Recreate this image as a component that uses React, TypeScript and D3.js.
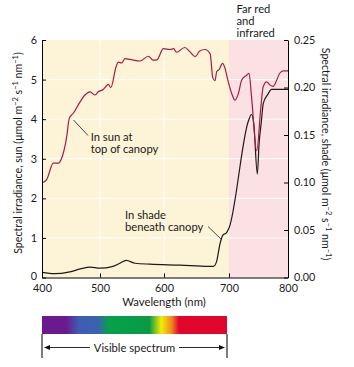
import React, { useEffect, useRef } from "react";
import * as d3 from "d3";

// sun at top of canopy (left axis)
const sunWavelength = [400, 403, 408, 419.5, 428, 433, 442.6, 447, 454, 462.6, 474, 483, 491, 497, 505, 513, 517, 525, 528.6, 534, 539, 547, 562.5, 575.5, 583, 589, 599, 609, 615, 619, 632, 640, 648, 655, 663, 671, 675, 678.5, 681, 685, 690, 694, 697, 704.6, 710, 716, 721.5, 730, 734, 738, 747, 754, 758, 764, 769.5, 775, 781, 786, 792, 800];
const sunValue = [2.41, 2.41, 2.47, 2.89, 2.89, 2.98, 3.56, 4.02, 4.15, 4.36, 4.61, 4.69, 4.61, 4.69, 4.75, 4.88, 4.8, 5.32, 5.44, 5.42, 5.53, 5.51, 5.47, 5.59, 5.49, 5.5, 5.78, 5.76, 5.78, 5.69, 5.81, 5.7, 5.58, 5.72, 5.76, 5.65, 5.05, 4.97, 5.2, 5.26, 5.41, 5.28, 5.07, 4.65, 4.48, 4.65, 4.99, 5.11, 5.16, 4.6, 3.2, 4.3, 4.82, 4.94, 4.86, 4.83, 4.99, 5.16, 5.22, 5.22];

// shade beneath canopy (right axis)
const shadeWavelength = [400, 422, 448, 466, 483, 500, 519, 531, 541, 555, 578, 625, 668, 676, 681, 686, 691, 696, 700, 733, 738, 742, 748, 751, 755, 758, 766, 772, 800];
const shadeValue = [0.0053, 0.004, 0.006, 0.009, 0.011, 0.0099, 0.0115, 0.015, 0.018, 0.015, 0.014, 0.013, 0.0117, 0.0117, 0.017, 0.035, 0.045, 0.047, 0.052, 0.165, 0.1716, 0.162, 0.109, 0.141, 0.165, 0.183, 0.193, 0.198, 0.198];

const xTicks = [400, 500, 600, 700, 800];
const sunTicks = [0, 1, 2, 3, 4, 5, 6];
const shadeTicks = [0, 0.05, 0.1, 0.15, 0.2, 0.25];
const visibleRange = [400, 700];
const farRedRange = [700, 800];

// visible spectrum bar colours
const spectrumOffsets = [0, 0.13, 0.2, 0.3, 0.36, 0.58, 0.645, 0.7, 0.74, 1];
const spectrumColors = ["#6b1a8d", "#6b1a8d", "#3f5cb3", "#3a62b0", "#07a04a", "#0a9a47", "#f2ec05", "#ee8a20", "#e2062c", "#e0062b"];

const FONT = "Lato, 'Open Sans', sans-serif";
const NOTE = 11.2;

export default function App() {
  const ref = useRef<SVGSVGElement>(null);

  useEffect(() => {
    const svg = d3.select(ref.current);
    svg.selectAll("*").remove();

    const x = d3.scaleLinear().domain(xTicks).range([42, 100, 164, 229, 288]);
    const ySun = d3.scaleLinear().domain([0, 6]).range([277.5, 40]);
    const yShade = d3.scaleLinear().domain([0, 0.25]).range([277.5, 40]);

    // backgrounds
    svg.append("rect")
      .attr("x", x(visibleRange[0])).attr("y", ySun(6))
      .attr("width", x(visibleRange[1]) - x(visibleRange[0]))
      .attr("height", ySun(0) - ySun(6))
      .attr("fill", "#fdf3d7");
    svg.append("rect")
      .attr("x", x(farRedRange[0])).attr("y", ySun(6))
      .attr("width", x(farRedRange[1]) - x(farRedRange[0]))
      .attr("height", ySun(0) - ySun(6))
      .attr("fill", "#fbe1e4");

    // white grid
    const grid = svg.append("g").attr("stroke", "#ffffff").attr("stroke-width", 1);
    grid.selectAll("line.h").data(sunTicks.slice(1, -1)).join("line")
      .attr("class", "h")
      .attr("x1", x(400)).attr("x2", x(800))
      .attr("y1", d => ySun(d)).attr("y2", d => ySun(d));
    grid.selectAll("line.v").data([500, 600]).join("line")
      .attr("class", "v")
      .attr("x1", d => x(d)).attr("x2", d => x(d))
      .attr("y1", ySun(6)).attr("y2", ySun(0));

    // curves
    const sunLine = d3.line<number>()
      .x((d, i) => x(sunWavelength[i]))
      .y(d => ySun(d))
      .curve(d3.curveMonotoneX);
    const shadeLine = d3.line<number>()
      .x((d, i) => x(shadeWavelength[i]))
      .y(d => yShade(d))
      .curve(d3.curveMonotoneX);

    svg.append("path")
      .datum(shadeValue)
      .attr("fill", "none")
      .attr("stroke", "#1c1a1a")
      .attr("stroke-width", 1.2)
      .attr("d", shadeLine);
    svg.append("path")
      .datum(sunValue)
      .attr("fill", "none")
      .attr("stroke", "#a51b45")
      .attr("stroke-width", 1.2)
      .attr("d", sunLine);

    // axes
    const styleAxis = (g: any) => {
      g.attr("font-family", FONT).attr("font-size", 10.8);
      g.selectAll("text").attr("fill", "#1a1a1a");
      g.selectAll("line").attr("stroke", "#000");
      g.select(".domain").attr("stroke", "#000");
    };

    svg.append("g")
      .attr("transform", `translate(${x(400)},0)`)
      .call(d3.axisLeft(ySun).tickValues(sunTicks).tickFormat(d3.format("d")).tickSize(-4).tickSizeOuter(0).tickPadding(5))
      .call(styleAxis)
      .call(g => g.selectAll(".tick text").filter(d => d === 0).attr("dy", "0.2em"));

    svg.append("g")
      .attr("transform", `translate(${x(800)},0)`)
      .call(d3.axisRight(yShade).tickValues(shadeTicks).tickFormat(d3.format(".2f")).tickSize(-4).tickSizeOuter(0).tickPadding(6))
      .call(styleAxis);

    svg.append("g")
      .attr("transform", `translate(0,${ySun(0)})`)
      .call(d3.axisBottom(x).tickValues(xTicks).tickFormat(d3.format("d")).tickSize(-4).tickSizeOuter(0).tickPadding(6.5))
      .call(styleAxis);

    // text helpers
    const txt = (xx: number, yy: number, s: string, anchor = "start") =>
      svg.append("text")
        .attr("x", xx).attr("y", yy)
        .attr("text-anchor", anchor)
        .attr("font-family", FONT).attr("font-size", NOTE)
        .attr("fill", "#1a1a1a")
        .text(s);

    txt(x(600), 306, "Wavelength (nm)", "middle").attr("font-size", 11.3);

    // rotated axis titles with superscripts
    const unitLabel = (g: any, prefix: string) => {
      const t = g.append("text")
        .attr("text-anchor", "middle")
        .attr("font-family", FONT).attr("font-size", 10.6)
        .attr("fill", "#1a1a1a");
      t.append("tspan").text(prefix + " (\u03bcmol m");
      t.append("tspan").attr("font-size", 7.5).attr("dy", -4).text("\u22122");
      t.append("tspan").attr("dy", 4).text(" s");
      t.append("tspan").attr("font-size", 7.5).attr("dy", -4).text("\u22121");
      t.append("tspan").attr("dy", 4).text(" nm");
      t.append("tspan").attr("font-size", 7.5).attr("dy", -4).text("\u22121");
      t.append("tspan").attr("dy", 4).text(")");
    };
    unitLabel(svg.append("g").attr("transform", "translate(22,153) rotate(-90)"), "Spectral irradiance, sun");
    unitLabel(svg.append("g").attr("transform", "translate(322,154) rotate(90)"), "Spectral irradiance, shade");

    // annotations
    txt(236.5, 12.5, "Far red");
    txt(236.5, 25, "and");
    txt(236.5, 37, "infrared");

    txt(90.7, 140.5, "In sun at");
    txt(90.7, 153, "top of canopy");
    txt(125, 219, "In shade");
    txt(125, 231, "beneath canopy");

    const leader = svg.append("g").attr("stroke", "#1a1a1a").attr("stroke-width", 0.8);
    leader.append("line").attr("x1", 73.5).attr("y1", 120).attr("x2", 88).attr("y2", 135.5);
    leader.append("line").attr("x1", 208).attr("y1", 226.5).attr("x2", 221).attr("y2", 239);

    // visible spectrum bar
    const bar = d3.scaleLinear().domain(visibleRange).range([42, 227]);
    const grad = svg.append("defs").append("linearGradient")
      .attr("id", "spectrum").attr("x1", 0).attr("x2", 1).attr("y1", 0).attr("y2", 0);
    grad.selectAll("stop").data(spectrumOffsets).join("stop")
      .attr("offset", d => d)
      .attr("stop-color", (d, i) => spectrumColors[i]);
    svg.append("rect")
      .attr("x", bar(400)).attr("y", 316)
      .attr("width", bar(700) - bar(400)).attr("height", 18)
      .attr("fill", "url(#spectrum)");

    const brk = svg.append("g").attr("stroke", "#111").attr("stroke-width", 1.1);
    brk.append("line").attr("x1", bar(400)).attr("x2", bar(400)).attr("y1", 334).attr("y2", 358);
    brk.append("line").attr("x1", bar(700)).attr("x2", bar(700)).attr("y1", 334).attr("y2", 358);
    brk.append("line").attr("x1", bar(400) + 6).attr("x2", 90).attr("y1", 347.5).attr("y2", 347.5).attr("stroke-width", 0.9);
    brk.append("line").attr("x1", 179).attr("x2", bar(700) - 6).attr("y1", 347.5).attr("y2", 347.5).attr("stroke-width", 0.9);
    const heads = svg.append("g").attr("fill", "#111");
    heads.append("path").attr("d", d3.line()([[bar(400) + 2, 347.5], [bar(400) + 8, 345], [bar(400) + 8, 350]]) + "Z");
    heads.append("path").attr("d", d3.line()([[bar(700) - 2, 347.5], [bar(700) - 8, 345], [bar(700) - 8, 350]]) + "Z");
    txt((bar(400) + bar(700)) / 2, 351.5, "Visible spectrum", "middle");
  }, []);

  return (
    <svg ref={ref} width={354} height={367} style={{ position: "absolute", left: 0, top: 0, background: "#fff" }} />
  );
}
